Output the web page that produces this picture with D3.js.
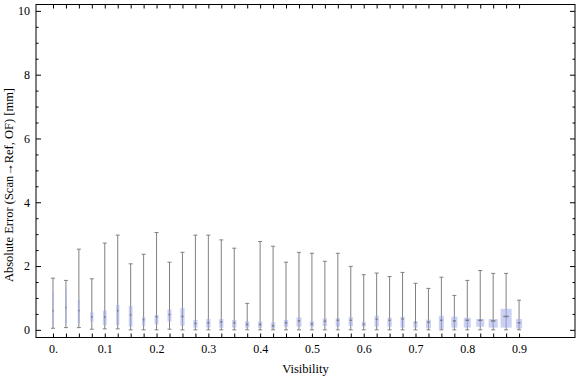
<!DOCTYPE html>
<html>
<head>
    <title>Absolute Error by Visibility</title>
    <script src="https://d3js.org/d3.v7.min.js"></script>
    <style>
        body { margin: 0; background: #fff; }
        .tick text { font-family: "Liberation Serif", "Times New Roman", serif; font-size: 12px; fill: #000; }
        .label { font-family: "Liberation Serif", "Times New Roman", serif; font-size: 12.5px; fill: #000; }
        .whisker { stroke: #808080; stroke-width: 1; }
        .box { fill: rgb(160,172,235); fill-opacity: 0.55; }
        .median { stroke: #6d6d6d; stroke-width: 1.5; stroke-opacity: 0.8; }
    </style>
</head>
<body>
    <div id="chart"></div>
    <script>
        // visibility bins
        var visibility = [0, 0.025, 0.05, 0.075, 0.1, 0.125, 0.15, 0.175, 0.2, 0.225,
                          0.25, 0.275, 0.3, 0.325, 0.35, 0.375, 0.4, 0.425, 0.45, 0.475,
                          0.5, 0.525, 0.55, 0.575, 0.6, 0.625, 0.65, 0.675, 0.7, 0.725,
                          0.75, 0.775, 0.8, 0.825, 0.85, 0.875, 0.9];
        // box whisker stats (mm)
        var minErr = [0.05, 0.07, 0.07, 0.02, 0.03, 0.03, 0.0, 0.0, 0.0, 0.02,
                      0.0, 0.0, 0.0, 0.0, 0.0, 0.0, 0.0, 0.0, 0.0, 0.0,
                      0.0, 0.0, 0.0, 0.0, 0.0, 0.0, 0.0, 0.0, 0.0, 0.0,
                      0.0, 0.0, 0.0, 0.0, 0.0, 0.0, 0.0];
        var q1Err = [0.12, 0.2, 0.21, 0.26, 0.15, 0.15, 0.1, 0.13, 0.17, 0.26,
                     0.13, 0.07, 0.07, 0.07, 0.07, 0.07, 0.07, 0.04, 0.1, 0.1,
                     0.1, 0.12, 0.1, 0.12, 0.1, 0.1, 0.1, 0.07, 0.07, 0.05,
                     0.03, 0.07, 0.07, 0.1, 0.07, 0.07, 0.04];
        var medianErr = [0.6, 0.7, 0.6, 0.4, 0.4, 0.6, 0.47, 0.32, 0.41, 0.48,
                         0.42, 0.2, 0.22, 0.25, 0.22, 0.17, 0.17, 0.13, 0.22, 0.28,
                         0.18, 0.27, 0.3, 0.3, 0.17, 0.33, 0.3, 0.34, 0.23, 0.24,
                         0.3, 0.28, 0.3, 0.3, 0.28, 0.42, 0.22];
        var q3Err = [1.22, 1.28, 0.94, 0.55, 0.6, 0.78, 0.75, 0.4, 0.47, 0.64,
                     0.68, 0.31, 0.34, 0.34, 0.31, 0.27, 0.26, 0.23, 0.31, 0.39,
                     0.27, 0.36, 0.36, 0.4, 0.25, 0.44, 0.38, 0.41, 0.26, 0.32,
                     0.44, 0.41, 0.38, 0.34, 0.34, 0.66, 0.34];
        var maxErr = [1.62, 1.55, 2.53, 1.6, 2.72, 2.97, 2.07, 2.37, 3.05, 2.12,
                      2.43, 2.97, 2.97, 2.82, 2.56, 0.83, 2.77, 2.62, 2.12, 2.43,
                      2.4, 2.15, 2.4, 1.99, 1.73, 1.78, 1.67, 1.8, 1.46, 1.3,
                      1.65, 1.08, 1.55, 1.86, 1.77, 1.77, 0.93];
        // relative sample size per bin (box width)
        var sampleSize = [15, 15, 23, 33, 37, 33, 37, 33, 40, 40,
                          43, 43, 43, 43, 43, 43, 43, 43, 43, 50,
                          43, 43, 43, 43, 40, 43, 43, 43, 43, 50,
                          50, 60, 70, 80, 90, 110, 60];
        var xLabelValues = [0, 0.1, 0.2, 0.3, 0.4, 0.5, 0.6, 0.7, 0.8, 0.9];
        var xLabels = ["0.", "0.1", "0.2", "0.3", "0.4", "0.5", "0.6", "0.7", "0.8", "0.9"];
        var yMajor = [0, 2, 4, 6, 8, 10];
        var yMinor = [0.5, 1, 1.5, 2.5, 3, 3.5, 4.5, 5, 5.5, 6.5, 7, 7.5, 8.5, 9, 9.5];

        const width = 576, height = 377;
        const frame = {left: 36, right: 575, top: 4.5, bottom: 337.5};

        var x = d3.scaleLinear().domain([-0.0328, 1.008]).range([frame.left, frame.right]);
        var y = d3.scaleLinear().domain([-0.24, 10.2]).range([frame.bottom, frame.top]);
        var w = d3.scaleLinear().domain([0, 110]).range([0, 11]);

        var svg = d3.select("#chart").append("svg")
            .attr("width", width)
            .attr("height", height);

        var data = visibility.map(function(v, i) {
            return {v: v, min: minErr[i], q1: q1Err[i], med: medianErr[i], q3: q3Err[i], max: maxErr[i], n: sampleSize[i]};
        });

        var g = svg.selectAll(".bw").data(data).enter().append("g").attr("class", "bw");

        // whisker line
        g.append("line").attr("class", "whisker")
            .attr("x1", d => x(d.v)).attr("x2", d => x(d.v))
            .attr("y1", d => y(d.min)).attr("y2", d => y(d.max));
        // caps
        g.append("line").attr("class", "whisker")
            .attr("x1", d => x(d.v) - 2).attr("x2", d => x(d.v) + 2)
            .attr("y1", d => y(d.max)).attr("y2", d => y(d.max));
        g.append("line").attr("class", "whisker")
            .attr("x1", d => x(d.v) - 2).attr("x2", d => x(d.v) + 2)
            .attr("y1", d => y(d.min)).attr("y2", d => y(d.min));
        // box
        g.append("rect").attr("class", "box")
            .attr("x", d => x(d.v) - w(d.n) / 2)
            .attr("width", d => w(d.n))
            .attr("y", d => y(d.q3))
            .attr("height", d => y(d.q1) - y(d.q3));
        // median
        g.append("line").attr("class", "median")
            .attr("x1", d => x(d.v) - Math.max(w(d.n) * 0.25, 0.6))
            .attr("x2", d => x(d.v) + Math.max(w(d.n) * 0.25, 0.6))
            .attr("y1", d => y(d.med)).attr("y2", d => y(d.med));

        // frame
        svg.append("rect")
            .attr("x", frame.left).attr("y", frame.top)
            .attr("width", frame.right - frame.left)
            .attr("height", frame.bottom - frame.top)
            .attr("fill", "none").attr("stroke", "#000").attr("stroke-width", 1);

        // bottom ticks + labels
        svg.append("g")
            .attr("transform", "translate(0," + frame.bottom + ")")
            .call(d3.axisBottom(x).tickValues(visibility).tickSizeInner(-4).tickSizeOuter(0).tickFormat(""))
            .call(a => a.select(".domain").remove());
        svg.append("g")
            .attr("transform", "translate(0," + frame.bottom + ")")
            .call(d3.axisBottom(x).tickValues(xLabelValues).tickSize(0).tickPadding(7)
                .tickFormat((d, i) => xLabels[i]))
            .call(a => a.select(".domain").remove());
        // top ticks
        svg.append("g")
            .attr("transform", "translate(0," + frame.top + ")")
            .call(d3.axisTop(x).tickValues(visibility).tickSizeInner(-4).tickSizeOuter(0).tickFormat(""))
            .call(a => a.select(".domain").remove());

        // left axis
        svg.append("g")
            .attr("transform", "translate(" + frame.left + ",0)")
            .call(d3.axisLeft(y).tickValues(yMajor).tickSizeInner(-5).tickSizeOuter(0).tickPadding(6))
            .call(a => a.select(".domain").remove());
        svg.append("g")
            .attr("transform", "translate(" + frame.left + ",0)")
            .call(d3.axisLeft(y).tickValues(yMinor).tickSizeInner(-2.5).tickSizeOuter(0).tickFormat(""))
            .call(a => a.select(".domain").remove());
        // right axis
        svg.append("g")
            .attr("transform", "translate(" + frame.right + ",0)")
            .call(d3.axisRight(y).tickValues(yMajor).tickSizeInner(-5).tickSizeOuter(0).tickFormat(""))
            .call(a => a.select(".domain").remove());
        svg.append("g")
            .attr("transform", "translate(" + frame.right + ",0)")
            .call(d3.axisRight(y).tickValues(yMinor).tickSizeInner(-2.5).tickSizeOuter(0).tickFormat(""))
            .call(a => a.select(".domain").remove());

        svg.selectAll(".tick line").attr("stroke", "#000");

        // axis titles
        svg.append("text")
            .attr("class", "label")
            .attr("x", (frame.left + frame.right) / 2)
            .attr("y", 373)
            .style("text-anchor", "middle")
            .text("Visibility");

        svg.append("text")
            .attr("class", "label")
            .attr("transform", "translate(13,185) rotate(-90)")
            .style("text-anchor", "middle")
            .text("Absolute Error (Scan\u2192Ref, OF) [mm]");
    </script>
</body>
</html>
